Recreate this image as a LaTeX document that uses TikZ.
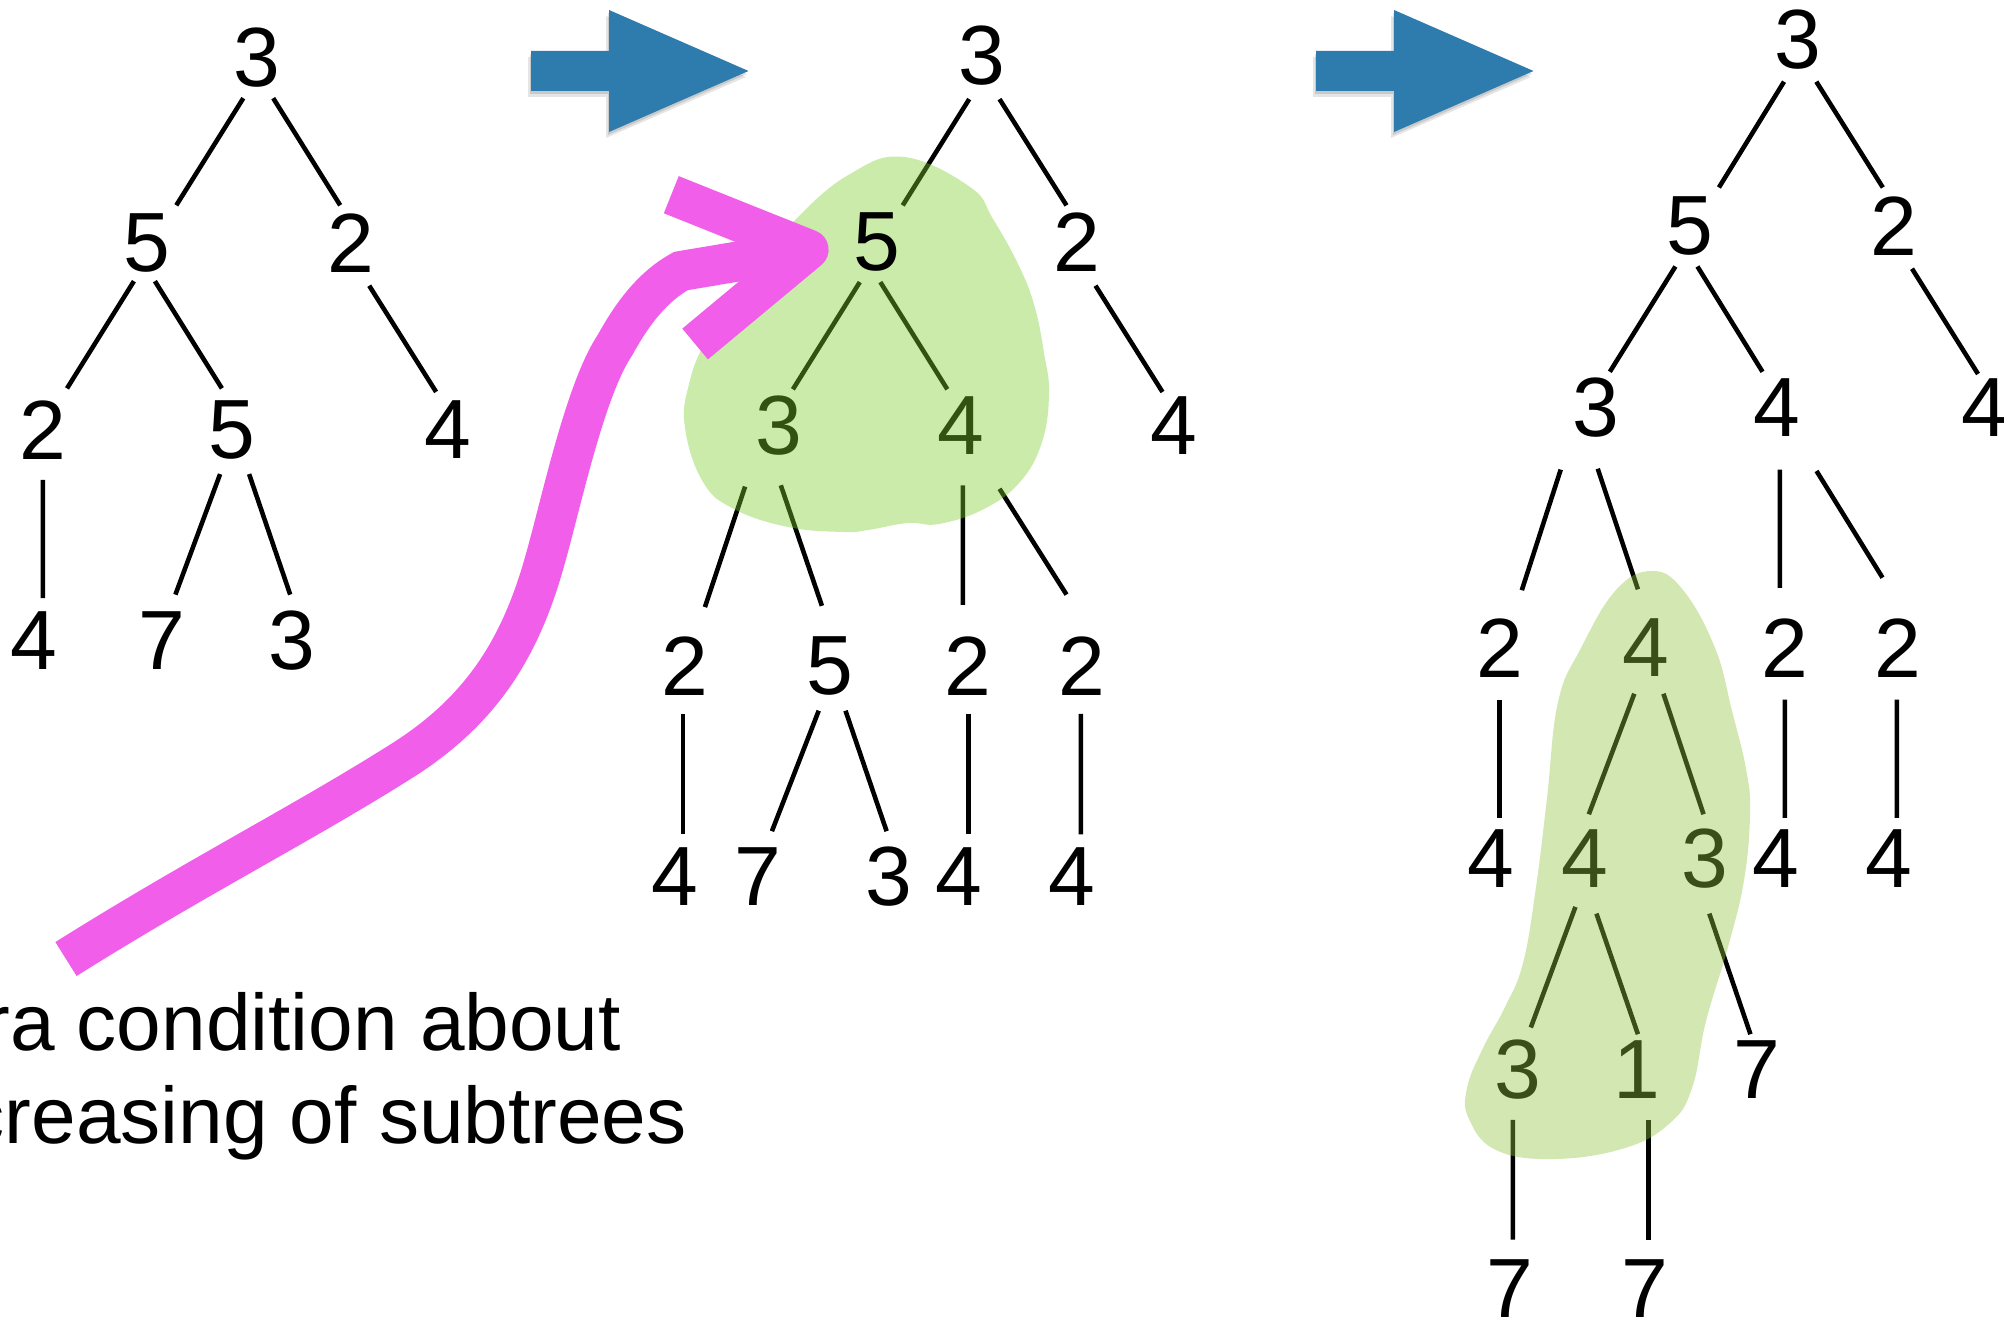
\documentclass[tikz,border=0pt]{standalone}
\usepackage{fontspec}
\setmainfont{Liberation Sans}
\pgfdeclarelayer{under}
\pgfdeclarelayer{tint}
\pgfsetlayers{under,tint,main}
\definecolor{arrowblue}{RGB}{46,123,173}
\definecolor{markpink}{RGB}{241,94,233}
\definecolor{blobA}{rgb}{0.49,0.81,0.18}
\definecolor{blobB}{rgb}{0.57,0.77,0.25}
% edge between two digits, each end shifted from the digit centre
\newcommand\treeedge[4]{\draw[treeline] ([shift={(#2)}]#1.center) -- ([shift={(#4)}]#3.center);}
\begin{document}
\begin{tikzpicture}[x=0.01cm,y=-0.01cm,
  digit/.style={inner sep=0pt, font=\fontsize{23.9pt}{28pt}\selectfont},
  treeline/.style={line width=1.3pt},
  captiontext/.style={inner sep=0pt, anchor=base east, font=\fontsize{22.8pt}{27pt}\selectfont},
  stepshape/.style={line width=0.4cm, draw=markpink}]
\useasboundingbox (0,0) rectangle (2004,1319);
\begin{pgfonlayer}{under}
  \fill[white] (0,0) rectangle (2004,1319);
\end{pgfonlayer}

% ---------- first tree ----------
\node[digit] (a0) at (257,58) {3};
\node[digit] (a1) at (147,243) {5};
\node[digit] (a2) at (351,243) {2};
\node[digit] (a3) at (43,430) {2};
\node[digit] (a4) at (232,430) {5};
\node[digit] (a5) at (448,430) {4};
\node[digit] (a6) at (34,641) {4};
\node[digit] (a7) at (162,641) {7};
\node[digit] (a8) at (292,641) {3};

% ---------- second tree ----------
\node[digit] (b0) at (982,56) {3};
\node[digit] (b1) at (877,242) {5};
\node[digit] (b2) at (1077,242) {2};
\node[digit] (b5) at (1174,426) {4};
\node[digit] (b6) at (685,666) {2};
\node[digit] (b7) at (830,666) {5};
\node[digit] (b8) at (968,666) {2};
\node[digit] (b9) at (1082,666) {2};
\node[digit] (b10) at (675,877) {4};
\node[digit] (b11) at (758,877) {7};
\node[digit] (b12) at (889,877) {3};
\node[digit] (b13) at (959,877) {4};
\node[digit] (b14) at (1072,877) {4};

% ---------- third tree ----------
\node[digit] (c0) at (1798,40) {3};
\node[digit] (c1) at (1690,226) {5};
\node[digit] (c2) at (1894,226) {2};
\node[digit] (c3) at (1596,408) {3};
\node[digit] (c4) at (1777,408) {4};
\node[digit] (c5) at (1985,408) {4};
\node[digit] (c6) at (1500,648) {2};
\node[digit] (c8) at (1785,648) {2};
\node[digit] (c9) at (1898,648) {2};
\node[digit] (c10) at (1491,859) {4};
\node[digit] (c13) at (1776,859) {4};
\node[digit] (c14) at (1889,859) {4};
\node[digit] (c17) at (1757,1070) {7};
\node[digit] (c18) at (1510,1289) {7};
\node[digit] (c19) at (1645,1289) {7};

\begin{pgfonlayer}{under}
  % digits covered by the highlighted regions
  \node[digit] (b3) at (779,426) {3};
  \node[digit] (b4) at (961,426) {4};
  \node[digit] (c7) at (1646,648) {4};
  \node[digit] (c11) at (1585,859) {4};
  \node[digit] (c12) at (1705,859) {3};
  \node[digit] (c15) at (1518,1070) {3};
  \node[digit] (c16) at (1637,1070) {1};

  % edges of the first tree
  \treeedge{a0}{-13.7,40.2}{a1}{29.3,-37.7}
  \treeedge{a0}{16.2,40.2}{a2}{-10.8,-37.7}
  \treeedge{a1}{-13.1,38.2}{a3}{24,-41.6}
  \treeedge{a1}{7.9,38.2}{a4}{-10.1,-41.6}
  \treeedge{a2}{18.2,42.7}{a5}{-11.9,-38.1}
  \treeedge{a3}{-0.1,49.9}{a6}{8.9,-42.8}
  \treeedge{a4}{-11.9,44.1}{a7}{13.4,-46.4}
  \treeedge{a4}{17.1,44.1}{a8}{-1.8,-46.4}

  % edges of the second tree
  \treeedge{b0}{-12.8,43.1}{b1}{25.7,-36.6}
  \treeedge{b0}{17.5,43.1}{b2}{-10.5,-36.6}
  \treeedge{b1}{-17.2,40.1}{b3}{13.9,-36.7}
  \treeedge{b1}{3.3,40.1}{b4}{-13.7,-36.7}
  \treeedge{b2}{18.5,43.7}{b5}{-11.5,-34}
  \treeedge{b3}{-33.9,60.6}{b6}{19.9,-58.9}
  \treeedge{b3}{1.8,59.3}{b7}{-8.1,-60.2}
  \treeedge{b4}{1.9,59.3}{b8}{-5.1,-61.1}
  \treeedge{b4}{38.5,62.8}{b9}{-15.5,-71.4}
  \treeedge{b6}{-2,47.8}{b10}{8,-42.6}
  \treeedge{b7}{-11.3,44.7}{b11}{13.9,-45.8}
  \treeedge{b7}{15.5,44.7}{b12}{-2.4,-45.8}
  \treeedge{b8}{0.3,47.8}{b13}{9.3,-42.6}
  \treeedge{b9}{-1.2,47.8}{b14}{8.8,-42.6}

  % edges of the third tree
  \treeedge{c0}{-14,41.7}{c1}{28.9,-38.5}
  \treeedge{c0}{18.3,41.7}{c2}{-11.2,-38.5}
  \treeedge{c1}{-14.6,40.5}{c3}{13.8,-36.2}
  \treeedge{c1}{7.4,40.5}{c4}{-14.5,-36.2}
  \treeedge{c2}{18,42.7}{c5}{-7,-34}
  \treeedge{c3}{-35.3,61.6}{c6}{21.8,-57.8}
  \treeedge{c3}{1.7,60.7}{c7}{-8.1,-58.7}
  \treeedge{c4}{2.9,61.6}{c8}{-5.1,-60.1}
  \treeedge{c4}{39.5,63}{c9}{-15.5,-70.3}
  \treeedge{c6}{-0.5,51.5}{c10}{8.5,-41.2}
  \treeedge{c7}{-11.7,45.7}{c11}{3.8,-44.7}
  \treeedge{c7}{17.4,45.7}{c12}{-1.5,-44.7}
  \treeedge{c8}{-0.2,51.5}{c13}{8.8,-41.2}
  \treeedge{c9}{-1.2,51.5}{c14}{7.8,-41.2}
  \treeedge{c11}{-9.6,47.9}{c15}{12.8,-42.5}
  \treeedge{c11}{11.4,54.6}{c16}{0.9,-35.8}
  \treeedge{c12}{4.3,54.6}{c17}{-6.6,-35.8}
  \treeedge{c15}{-5.1,49.9}{c18}{2.9,-49.5}
  \treeedge{c16}{11.6,49.9}{c19}{3.6,-49.5}
\end{pgfonlayer}

% ---------- translucent highlights ----------
\begin{pgfonlayer}{tint}
  \fill[blobA, opacity=0.4] plot[smooth cycle, tension=0.7] coordinates {
    (904,157) (970,187) (993,219) (1020,268) (1035,308) (1044,353)
    (1049,393) (1042,442) (1020,482) (984,509) (939,524) (908,523)
    (868,530) (843,532) (788,527) (734,509) (703,482) (685,428)
    (689,384) (707,339) (747,277) (796,219) (850,174)};
  \fill[blobB, opacity=0.4] plot[smooth cycle, tension=0.7] coordinates {
    (1652,571) (1683,590) (1715,648) (1732,711) (1746,769) (1750,813)
    (1744,880) (1728,947) (1706,1021) (1692,1088) (1670,1123)
    (1625,1148) (1554,1159) (1496,1150) (1469,1119) (1467,1088)
    (1483,1048) (1505,1007) (1523,963) (1536,887) (1547,798)
    (1558,702) (1581,648) (1616,590)};
\end{pgfonlayer}

% ---------- block arrows between the trees ----------
\foreach \dx in {0,785} {
  \begin{scope}[shift={(\dx,0)}]
    \fill[black, opacity=0.10] (528,57) -- (606,57) -- (606,16) -- (746,77)
      -- (606,138) -- (606,97) -- (528,97) -- cycle;
    \fill[black, opacity=0.12] (530,54) -- (608,54) -- (608,13) -- (747,74)
      -- (608,135) -- (608,94) -- (530,94) -- cycle;
    \fill[arrowblue] (531,51) -- (609,51) -- (609,10) -- (748.5,71)
      -- (609,132) -- (609,91) -- (531,91) -- cycle;
  \end{scope}
}

% ---------- pink pointer ----------
\draw[stepshape, line join=miter]
  (66,959) .. controls (200,875) and (300,825) .. (400,762)
  .. controls (480,712) and (520,650) .. (545,560)
  .. controls (562,500) and (585,390) .. (615,345)
  .. controls (630,318) and (650,288) .. (681,271)
  -- (808.6,249.6);
\draw[stepshape, line join=round] (671.3,194.7) -- (808.6,249.6) -- (695.1,344);

% ---------- caption ----------
\node[captiontext] (cap1) at (621.5,1050) {ra condition about};
\node[captiontext] (cap2) at (687.5,1143.5) {creasing of subtrees};
\end{tikzpicture}
\end{document}
